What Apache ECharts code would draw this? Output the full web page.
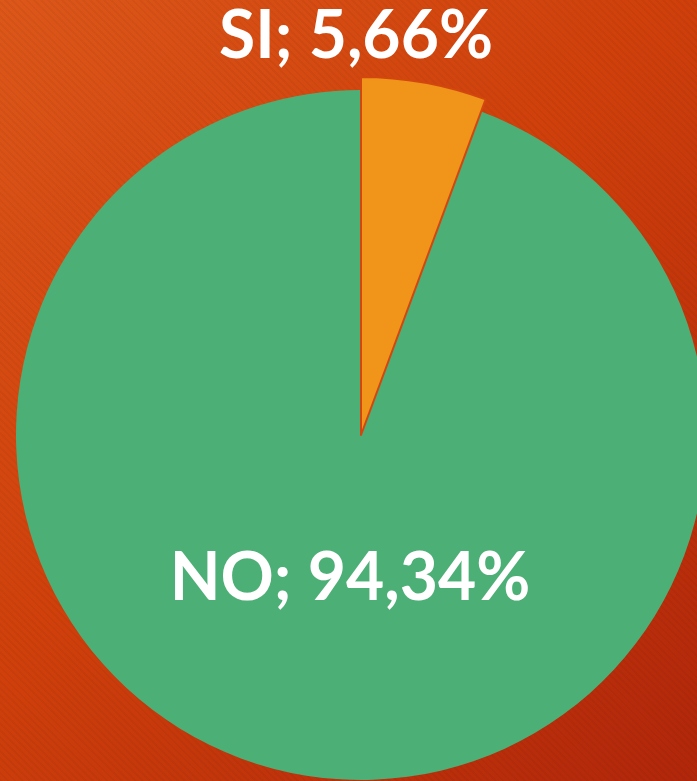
<!DOCTYPE html>
<html>
<head>
<meta charset="utf-8">
<script src="https://cdn.jsdelivr.net/npm/echarts@6/dist/echarts.min.js"></script>
<style>
html, body { margin: 0; padding: 0; }
#chart {
    width: 697px; height: 781px;
    background:
        repeating-linear-gradient(45deg, rgba(0,0,0,0.035) 0px, rgba(0,0,0,0.035) 2px, rgba(255,255,255,0) 2px, rgba(255,255,255,0) 5px),
        linear-gradient(135deg, #dc5719 0%, #cf400b 45%, #b0260a 100%);
}
</style>
</head>
<body>
<div id="chart"></div>
<script>
// dati del grafico
var categories = ['SI', 'NO'];
var values = [5.66, 94.34];
var colors = ['#f0941a', '#4caf76'];

var chart = echarts.init(document.getElementById('chart'));

function fmt(p) {
    return p.name + '; ' + p.value.toFixed(2).replace('.', ',') + '%';
}

var labelStyle = {
    color: '#ffffff',
    fontFamily: 'Lato',
    fontWeight: 'bold',
    fontSize: 66,
    formatter: fmt
};

// serie verde (NO) a raggio normale
var bigData = categories.map(function (c, i) {
    if (c === 'NO') {
        return { name: c, value: values[i], itemStyle: { color: colors[i] }, label: { show: true } };
    }
    return { name: c, value: values[i], itemStyle: { color: 'rgba(0,0,0,0)' }, label: { show: false } };
});

// serie arancione (SI) leggermente più grande
var smallData = categories.map(function (c, i) {
    if (c === 'SI') {
        return { name: c, value: values[i], itemStyle: { color: colors[i], borderColor: '#d2470f', borderWidth: 2 }, label: { show: true } };
    }
    return { name: c, value: values[i], itemStyle: { color: 'rgba(0,0,0,0)' }, label: { show: false } };
});

var option = {
    animation: false,
    series: [
        {
            type: 'pie',
            center: [361, 435],
            radius: 345,
            startAngle: 90,
            clockwise: true,
            silent: true,
            data: bigData,
            label: Object.assign({ position: 'inside' }, labelStyle),
            labelLine: { show: false },
            labelLayout: function () {
                return { x: 350, y: 579, align: 'center', verticalAlign: 'middle' };
            }
        },
        {
            type: 'pie',
            center: [361, 435],
            radius: 358,
            startAngle: 90,
            clockwise: true,
            silent: true,
            data: smallData,
            label: Object.assign({ position: 'inside' }, labelStyle),
            labelLine: { show: false },
            labelLayout: function () {
                return { x: 356, y: 37, align: 'center', verticalAlign: 'middle' };
            }
        }
    ]
};

chart.setOption(option);
</script>
</body>
</html>
